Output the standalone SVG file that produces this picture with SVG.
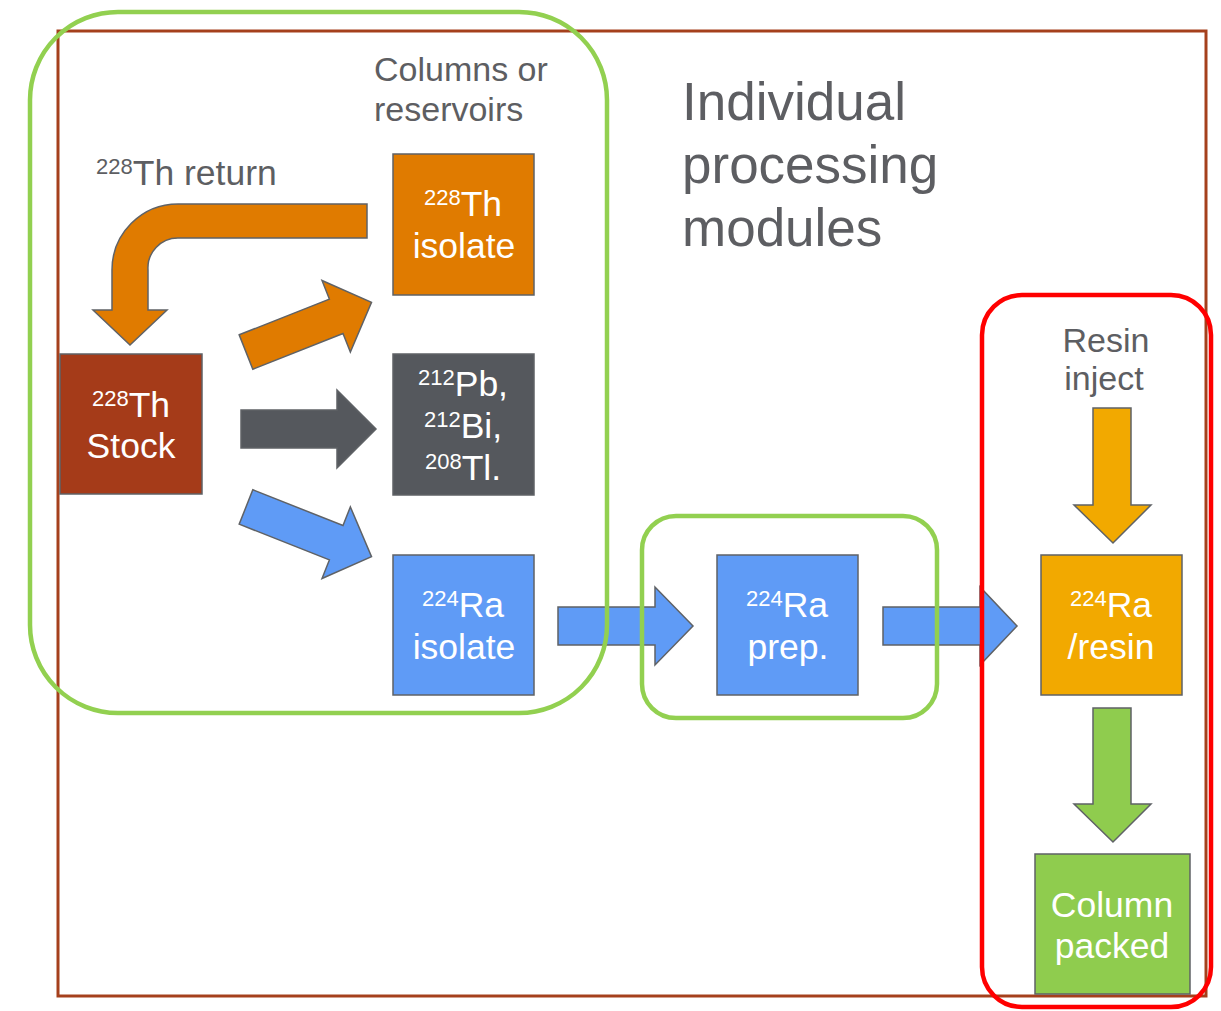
<svg xmlns="http://www.w3.org/2000/svg" width="1221" height="1011" viewBox="0 0 1221 1011">
<style>
.lbl{font-family:"Liberation Sans",Arial,sans-serif;fill:#5d5e62}
.nt{font-family:"Liberation Sans",Arial,sans-serif;fill:#ffffff;font-size:35.5px;text-anchor:middle}
.sup{font-size:22px}
.box{stroke:#5f6266;stroke-width:1.5}
.arr{stroke:#5f6266;stroke-width:1.5}
.frameG{fill:none;stroke:#92d050;stroke-width:4.5}
.frameR{fill:none;stroke:#ff0000;stroke-width:4.5}
</style>
<rect width="1221" height="1011" fill="#ffffff"/>
<rect id="outer" x="58" y="31" width="1148" height="965" fill="none" stroke="#a5401c" stroke-width="3"/>

<g id="labels">
<text class="lbl" x="374" y="81" font-size="34">Columns or</text>
<text class="lbl" x="374" y="121" font-size="34">reservoirs</text>
<text class="lbl" x="682" y="120" font-size="53">Individual</text>
<text class="lbl" x="682" y="183" font-size="53">processing</text>
<text class="lbl" x="682" y="246" font-size="53">modules</text>
<text class="lbl" x="96" y="185" font-size="35.5"><tspan class="sup" dy="-11">228</tspan><tspan dy="11">Th return</tspan></text>
<text class="lbl" x="1106" y="352" font-size="34" text-anchor="middle">Resin</text>
<text class="lbl" x="1104" y="390" font-size="34" text-anchor="middle">inject</text>
</g>

<g id="connectors">
<path class="arr" fill="#e07b00" d="M367,204 L178,204 A66,66 0 0 0 112,270 L112,310 L93,310 L130,345 L167,310 L148,310 L148,270 A30,30 0 0 1 178,238 L367,238 Z"/>
<polygon class="arr" fill="#e07b00" points="0,-18.5 97,-18.5 97,-38.5 135,0 97,38.5 97,18.5 0,18.5" transform="translate(246,352) rotate(-21.6)"/>
<polygon class="arr" fill="#55585d" points="241,410 337,410 337,390 376,429 337,468 337,448 241,448"/>
<polygon class="arr" fill="#5f9bf6" points="0,-18.5 97,-18.5 97,-38.5 135,0 97,38.5 97,18.5 0,18.5" transform="translate(246,507) rotate(21.6)"/>
<polygon class="arr" fill="#5f9bf6" points="558,607 655,607 655,587 693,626 655,665 655,645 558,645"/>
<polygon class="arr" fill="#5f9bf6" points="883,607 980,607 980,587 1017,626 980,665 980,645 883,645"/>
<polygon class="arr" fill="#f2a900" points="1093,408 1131,408 1131,505 1151,505 1113,543 1074,505 1093,505"/>
<polygon class="arr" fill="#8fcc4e" points="1093,708 1131,708 1131,804 1151,804 1113,842 1074,804 1093,804"/>
</g>

<g id="stock">
<rect class="box" x="60" y="354" width="142" height="140" fill="#a53b19"/>
<text class="nt" x="131" y="417"><tspan class="sup" dy="-11">228</tspan><tspan dy="11">Th</tspan></text>
<text class="nt" x="131" y="458">Stock</text>
</g>
<g id="th-isolate">
<rect class="box" x="393" y="154" width="141" height="141" fill="#e07b00"/>
<text class="nt" x="463" y="216"><tspan class="sup" dy="-11">228</tspan><tspan dy="11">Th</tspan></text>
<text class="nt" x="464" y="258">isolate</text>
</g>
<g id="daughters">
<rect class="box" x="393" y="354" width="141" height="141" fill="#55585d"/>
<text class="nt" x="463" y="396"><tspan class="sup" dy="-11">212</tspan><tspan dy="11">Pb,</tspan></text>
<text class="nt" x="463" y="438"><tspan class="sup" dy="-11">212</tspan><tspan dy="11">Bi,</tspan></text>
<text class="nt" x="463" y="480"><tspan class="sup" dy="-11">208</tspan><tspan dy="11">Tl.</tspan></text>
</g>
<g id="ra-isolate">
<rect class="box" x="393" y="555" width="141" height="140" fill="#5f9bf6"/>
<text class="nt" x="463" y="617"><tspan class="sup" dy="-11">224</tspan><tspan dy="11">Ra</tspan></text>
<text class="nt" x="464" y="659">isolate</text>
</g>
<g id="ra-prep">
<rect class="box" x="717" y="555" width="141" height="140" fill="#5f9bf6"/>
<text class="nt" x="787" y="617"><tspan class="sup" dy="-11">224</tspan><tspan dy="11">Ra</tspan></text>
<text class="nt" x="788" y="659">prep.</text>
</g>
<g id="ra-resin">
<rect class="box" x="1041" y="555" width="141" height="140" fill="#f2a900"/>
<text class="nt" x="1111" y="617"><tspan class="sup" dy="-11">224</tspan><tspan dy="11">Ra</tspan></text>
<text class="nt" x="1111" y="659">/resin</text>
</g>
<g id="column-packed">
<rect class="box" x="1035" y="854" width="155" height="140" fill="#8fcc4e"/>
<text class="nt" x="1112" y="917">Column</text>
<text class="nt" x="1112" y="958">packed</text>
</g>

<g id="frames">
<rect class="frameG" x="30" y="12" width="577" height="701" rx="88" ry="88"/>
<rect class="frameG" x="642" y="516" width="295" height="202" rx="34" ry="34"/>
<rect class="frameR" x="982" y="295" width="229" height="712" rx="40" ry="40"/>
</g>
</svg>
